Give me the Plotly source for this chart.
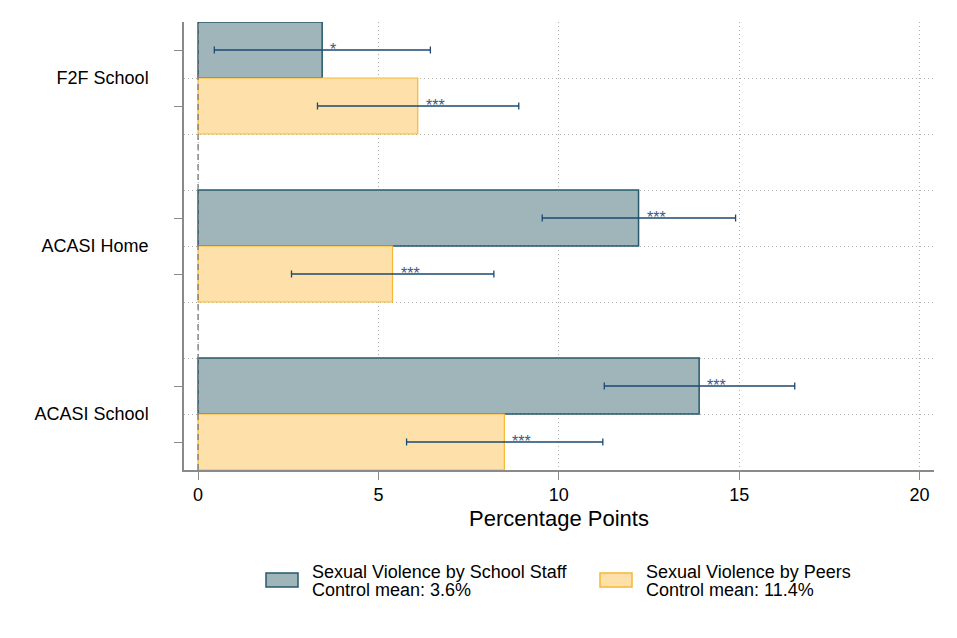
import plotly.graph_objects as go

# ---------------- data ----------------
groups = ["F2F School", "ACASI Home", "ACASI School"]

staff_est = [3.44, 12.21, 13.89]
staff_lo = [0.45, 9.54, 11.26]
staff_hi = [6.44, 14.90, 16.54]
staff_stars = ["*", "***", "***"]

peer_est = [6.09, 5.39, 8.49]
peer_lo = [3.31, 2.59, 5.78]
peer_hi = [8.89, 8.20, 11.22]
peer_stars = ["***", "***", "***"]

staff_label = ["Sexual Violence by School Staff", "Control mean: 3.6%"]
peer_label = ["Sexual Violence by Peers", "Control mean: 11.4%"]

x_ticks = [0, 5, 10, 15, 20]
x_title = "Percentage Points"

# ---------------- styling ----------------
FONT = "Liberation Sans, Arial, sans-serif"
STAFF_FILL = "#9fb5ba"
STAFF_LINE = "#245a6a"
PEER_FILL = "#fde0aa"
PEER_LINE = "#f7b733"
ERR = "#1d4a70"
STAR = "#3a5a80"
AXIS = "#8a8a8a"
GRID = "#b0b0b0"

# bar slots: staff / peers per group, one empty slot between groups
staff_pos = [3 * i + 1 for i in range(len(groups))]
peer_pos = [3 * i + 2 for i in range(len(groups))]
label_pos = [3 * i + 1.5 for i in range(len(groups))]
grid_pos = [k + 0.5 for k in range(1, 3 * len(groups) - 1)]
grid_text = []
for g in grid_pos:
    grid_text.append(groups[label_pos.index(g)] if g in label_pos else "")

fig = go.Figure()

fig.add_trace(go.Bar(
    x=staff_est, y=staff_pos, orientation="h", width=1,
    marker=dict(color=STAFF_FILL, line=dict(color=STAFF_LINE, width=1.5)),
    error_x=dict(type="data", symmetric=False,
                 array=[h - e for h, e in zip(staff_hi, staff_est)],
                 arrayminus=[e - l for e, l in zip(staff_est, staff_lo)],
                 color=ERR, thickness=1.3, width=3.5),
    showlegend=False, hoverinfo="skip",
))
fig.add_trace(go.Bar(
    x=peer_est, y=peer_pos, orientation="h", width=1,
    marker=dict(color=PEER_FILL, line=dict(color=PEER_LINE, width=1.2)),
    error_x=dict(type="data", symmetric=False,
                 array=[h - e for h, e in zip(peer_hi, peer_est)],
                 arrayminus=[e - l for e, l in zip(peer_est, peer_lo)],
                 color=ERR, thickness=1.3, width=3.5),
    showlegend=False, hoverinfo="skip",
))

annotations = []
for est, pos, s in list(zip(staff_est, staff_pos, staff_stars)) + list(zip(peer_est, peer_pos, peer_stars)):
    annotations.append(dict(x=est, y=pos, xref="x", yref="y", text=s, showarrow=False,
                            xanchor="left", yanchor="middle", xshift=6, yshift=1,
                            font=dict(family=FONT, size=16, color=STAR)))

# plot area in pixels: left 184, right 934, top 22, bottom 470
def px_x(p):
    return (p - 184) / 750.0

def px_y(p):
    return (470 - p) / 448.0

shapes = [dict(type="line", xref="x", yref="paper", x0=0, x1=0, y0=0, y1=1,
               line=dict(color="#7f7f7f", width=1.4, dash="6px,4px"), layer="above")]

legend_items = [(staff_label, STAFF_FILL, STAFF_LINE, 266),
                (peer_label, PEER_FILL, PEER_LINE, 600)]
for lines, fill, line, bx in legend_items:
    shapes.append(dict(type="rect", xref="paper", yref="paper",
                       x0=px_x(bx), x1=px_x(bx + 32), y0=px_y(587), y1=px_y(573),
                       fillcolor=fill, line=dict(color=line, width=1.5)))
    for i, t in enumerate(lines):
        annotations.append(dict(x=px_x(bx + 45), y=px_y(572 + 18 * i), xref="paper", yref="paper",
                                text=t, showarrow=False, xanchor="left", yanchor="middle",
                                borderpad=0,
                                font=dict(family=FONT, size=18, color="black")))

fig.update_layout(
    width=957, height=638,
    margin=dict(l=184, r=23, t=22, b=168),
    paper_bgcolor="white", plot_bgcolor="white",
    barmode="overlay",
    font=dict(family=FONT, size=18, color="black"),
    xaxis=dict(range=[-0.39, 20.4], tickmode="array", tickvals=x_ticks,
               ticks="outside", ticklen=8, tickcolor=AXIS, tickwidth=1.3,
               showline=True, linecolor=AXIS, linewidth=1.5,
               showgrid=True, gridcolor=GRID, griddash="1px,3px", gridwidth=1,
               zeroline=False, tickfont=dict(family=FONT, size=18, color="black"),
               title=dict(text=x_title, font=dict(family=FONT, size=22, color="black"), standoff=6)),
    yaxis=dict(range=[3 * len(groups) - 0.5, 0.5], tickmode="array",
               tickvals=grid_pos, ticktext=grid_text, ticks="",
               showline=True, linecolor=AXIS, linewidth=1.5,
               showgrid=True, gridcolor=GRID, griddash="1px,3px", gridwidth=1,
               zeroline=False, ticklabelstandoff=30,
               tickfont=dict(family=FONT, size=18, color="black"),
               minor=dict(tickmode="array", tickvals=staff_pos + peer_pos, ticks="outside",
                          ticklen=8, tickcolor=AXIS, tickwidth=1.3, showgrid=False)),
    shapes=shapes,
    annotations=annotations,
)

fig.write_html("out.html")
